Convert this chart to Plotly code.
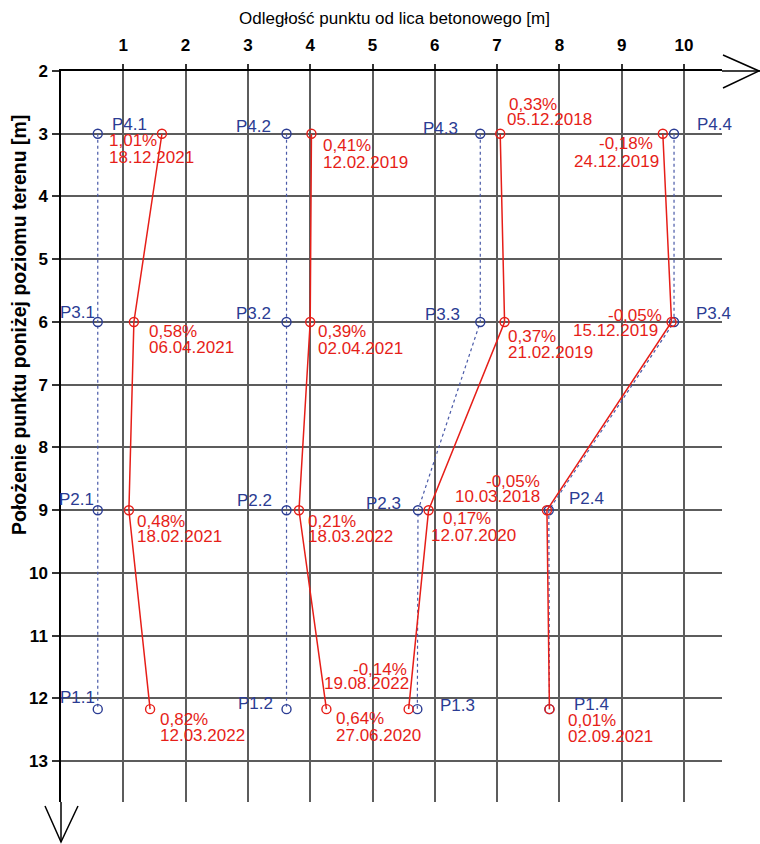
import plotly.graph_objects as go

# ---------------- data ----------------
depths = [3, 6, 9, 12.17]  # rows P4, P3, P2, P1 (m below ground)

point_names = [
    ["P4.1", "P3.1", "P2.1", "P1.1"],
    ["P4.2", "P3.2", "P2.2", "P1.2"],
    ["P4.3", "P3.3", "P2.3", "P1.3"],
    ["P4.4", "P3.4", "P2.4", "P1.4"],
]
ref_x = [
    [0.59, 0.59, 0.59, 0.59],
    [3.62, 3.62, 3.62, 3.62],
    [6.73, 6.73, 5.73, 5.72],
    [9.84, 9.84, 7.83, 7.84],
]
meas_x = [
    [1.62, 1.17, 1.09, 1.43],
    [4.02, 4.00, 3.82, 4.26],
    [7.05, 7.12, 5.90, 5.58],
    [9.66, 9.80, 7.80, 7.84],
]
percents = [
    ["1,01%", "0,58%", "0,48%", "0,82%"],
    ["0,41%", "0,39%", "0,21%", "0,64%"],
    ["0,33%", "0,37%", "0,17%", "-0,14%"],
    ["-0,18%", "-0,05%", "-0,05%", "0,01%"],
]
dates = [
    ["18.12.2021", "06.04.2021", "18.02.2021", "12.03.2022"],
    ["12.02.2019", "02.04.2021", "18.03.2022", "27.06.2020"],
    ["05.12.2018", "21.02.2019", "12.07.2020", "19.08.2022"],
    ["24.12.2019", "15.12.2019", "10.03.2018", "02.09.2021"],
]
x_ticks = [1, 2, 3, 4, 5, 6, 7, 8, 9, 10]
y_ticks = [2, 3, 4, 5, 6, 7, 8, 9, 10, 11, 12, 13]
x_title = "Odległość punktu od lica betonowego [m]"
y_title = "Położenie punktu poniżej poziomu terenu [m]"

# ---------------- styling / label placement (pixels) ----------------
W, H = 760, 844
L, R, T, B = 61, 38, 71, 42
PW, PH = W - L - R, H - T - B

BLUE = "#2b3c93"
BLUE_LINE = "#4a5aa8"
RED = "#e61e18"
FONT = "Arial, Liberation Sans, sans-serif"

# red label placement: (xanchor, dx1, dy1, dx2, dy2) ; dy positive = downwards
red_pos = [
    [("left", -55, 7, -55, 24), ("left", 13, 10, 13, 26), ("left", 6, 11, 6, 26), ("left", 8, 10, 8, 26)],
    [("left", 10, 12, 10, 29), ("left", 6, 10, 6, 27), ("left", 7, 11, 7, 26), ("left", 8, 9, 8, 26)],
    [("left", 7, -29, 5, -14), ("left", 1, 15, 1, 31), ("left", 12, 8, 0, 25), ("right", 0, -40, 2, -26)],
    [("right", -8, 10, -2, 28), ("right", -8, -6, -12, 9), ("right", -5, -29, -5, -14), ("left", 17, 11, 17, 27)],
]
# blue label placement: (xanchor, dx, dy)
blue_pos = [
    [("left", 12, -9), ("right", -1, -9), ("right", -2, -11), ("right", -1, -12)],
    [("right", -14, -7), ("right", -14, -8), ("right", -13, -10), ("right", -12, -6)],
    [("right", -20, -5), ("right", -18, -7), ("right", -15, -7), ("left", 21, -4)],
    [("left", 21, -9), ("left", 20, -8), ("left", 18, -12), ("left", 23, -5)],
]

fig = go.Figure()

for c in range(4):
    fig.add_trace(go.Scatter(
        x=ref_x[c], y=depths, mode="lines+markers",
        line=dict(color=BLUE_LINE, width=1.2, dash="dot"),
        marker=dict(symbol="circle-open", size=9, color=BLUE, line=dict(width=1.4, color=BLUE)),
        hoverinfo="skip", showlegend=False))
    fig.add_trace(go.Scatter(
        x=meas_x[c], y=depths, mode="lines+markers",
        line=dict(color=RED, width=1.5),
        marker=dict(symbol="circle-open", size=9, color=RED, line=dict(width=1.4, color=RED)),
        hoverinfo="skip", showlegend=False))

annotations = []
for c in range(4):
    for r in range(4):
        xa, dx1, dy1, dx2, dy2 = red_pos[c][r]
        for txt, dx, dy in ((percents[c][r], dx1, dy1), (dates[c][r], dx2, dy2)):
            annotations.append(dict(
                x=meas_x[c][r], y=depths[r], xref="x", yref="y", text=txt,
                showarrow=False, xanchor=xa, yanchor="middle",
                xshift=dx, yshift=-dy, font=dict(family=FONT, size=17, color=RED)))
        xa, dx, dy = blue_pos[c][r]
        annotations.append(dict(
            x=ref_x[c][r], y=depths[r], xref="x", yref="y", text=point_names[c][r],
            showarrow=False, xanchor=xa, yanchor="middle",
            xshift=dx, yshift=-dy, font=dict(family=FONT, size=17, color=BLUE)))

def px(xp):
    return (xp - L) / PW

def py(yp):
    return 1 - (yp - T) / PH

annotations.append(dict(
    x=px(394), y=py(18), xref="paper", yref="paper", text=x_title, showarrow=False,
    xanchor="center", yanchor="middle", font=dict(family=FONT, size=17, color="#000")))
annotations.append(dict(
    x=px(19), y=py(325), xref="paper", yref="paper", text="<b>" + y_title + "</b>", showarrow=False,
    xanchor="center", yanchor="middle", textangle=-90, font=dict(family=FONT, size=19.5, color="#000")))

shapes = [
    # axis extensions
    dict(type="line", xref="paper", yref="paper", x0=px(722), x1=px(760), y0=py(T), y1=py(T),
         line=dict(color="black", width=1.5)),
    dict(type="line", xref="paper", yref="paper", x0=px(L), x1=px(L), y0=py(802), y1=py(842),
         line=dict(color="black", width=1.5)),
    # arrow heads
    dict(type="path", xref="paper", yref="paper",
         path=f"M {px(723)},{py(55)} L {px(759)},{py(T)} L {px(723)},{py(88)}",
         line=dict(color="black", width=1.5)),
    dict(type="path", xref="paper", yref="paper",
         path=f"M {px(45)},{py(806)} L {px(L)},{py(842)} L {px(78)},{py(806)}",
         line=dict(color="black", width=1.5)),
]

fig.update_layout(
    width=W, height=H,
    margin=dict(l=L, r=R, t=T, b=B),
    paper_bgcolor="white", plot_bgcolor="white",
    annotations=annotations, shapes=shapes,
    font=dict(family=FONT, color="#111"),
    xaxis=dict(
        range=[0, 10.61], side="top", tickvals=x_ticks, showgrid=True,
        gridcolor="#5c5c5c", gridwidth=1.5, zeroline=False,
        showline=True, linecolor="black", linewidth=1.5,
        ticks="outside", ticklen=5, tickcolor="#333", tickwidth=1.5,
        tickfont=dict(family=FONT, size=17, color="#000", weight="bold"),
        ticklabelstandoff=6, automargin=False, fixedrange=True),
    yaxis=dict(
        range=[13.65, 2], tickvals=y_ticks, showgrid=True,
        gridcolor="#5c5c5c", gridwidth=1.5, zeroline=False,
        showline=True, linecolor="black", linewidth=1.5,
        ticks="outside", ticklen=7, tickcolor="#333", tickwidth=1.5,
        tickfont=dict(family=FONT, size=17, color="#000", weight="bold"),
        ticklabelstandoff=1, automargin=False, fixedrange=True),
)

fig.write_html(
    "out.html",
    config={"displayModeBar": False},
    post_script="document.body.style.margin='0';document.body.style.overflow='hidden';",
)
